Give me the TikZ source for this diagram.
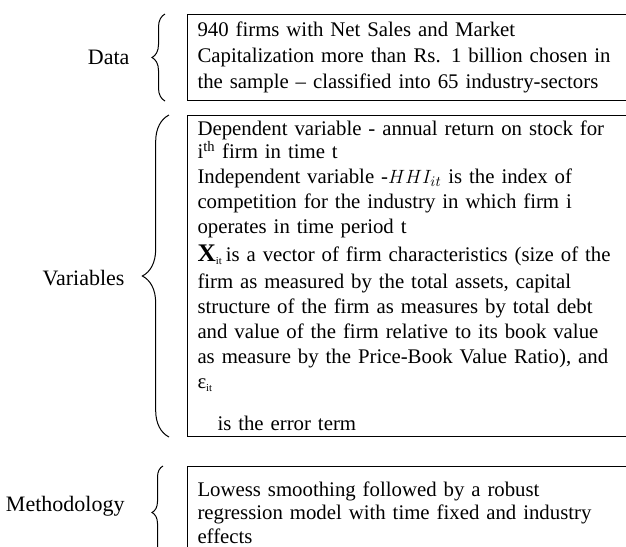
\documentclass[tikz,border=0pt]{standalone}
\usepackage{fontspec}
\setmainfont{Liberation Serif}
\usetikzlibrary{decorations.pathreplacing}

\tikzset{every picture/.style={line width=0.75pt}}
\tikzset{
  textbox/.style={draw, anchor=north west, align=left, inner xsep=7.5pt, text width=345pt, font=\fontsize{15.6}{18.75}\selectfont},
  lbl/.style={anchor=east, inner sep=0pt, font=\fontsize{16.5}{18.75}\selectfont},
  curly/.style={decorate, decoration={brace, amplitude=#1}},
  curly/.default=9pt
}

\begin{document}
\begin{tikzpicture}[x=0.75pt,y=0.75pt,yscale=-1,xscale=1]
\useasboundingbox (0,0) rectangle (626,547);
\clip (0,0) rectangle (626,547);

%Shape: Rectangle [Data]
\node[textbox, minimum height=64.5pt] (databox) at (187,14) {940 firms with Net Sales and Market\\[1pt] Capitalization more than Rs. 1 billion chosen in\\[1pt] the sample – classified into 65 industry-sectors};
%Shape: Rectangle [Variables]
\node[textbox, minimum height=240.75pt] (varbox) at (187,115) {Dependent variable - annual return on stock for\\[-1.5pt]
i\textsuperscript{th} firm in time t\\
Independent variable -$HHI_{it}$ is the index of\\
competition for the industry in which firm i\\
operates in time period t\\[2pt]
{\fontsize{19}{19}\selectfont\textbf{X}}\textsubscript{\fontsize{8}{8}\selectfont it}\,is a vector of firm characteristics (size of the\\[1.5pt]
firm as measured by the total assets, capital\\
structure of the firm as measures by total debt\\
and value of the firm relative to its book value\\
as measure by the Price-Book Value Ratio), and\\
ε\textsubscript{\fontsize{8}{8}\selectfont it}\\[13pt]
\hspace*{15pt}is the error term};
%Shape: Rectangle [Methodology]
\node[textbox, minimum height=69pt] (methbox) at (187,466) {Lowess smoothing followed by a robust\\[-1pt]
regression model with time fixed and industry\\[-1pt]
effects};

%Shape: Brace
\draw[curly=9.75pt] ([xshift=-16.5pt]databox.south west) -- ([xshift=-16.5pt]databox.north west);
\draw[curly=20pt] ([xshift=-13.5pt]varbox.south west) -- ([xshift=-13.5pt]varbox.north west);
\draw[curly=8.25pt] ([xshift=-18pt]methbox.south west) -- ([xshift=-18pt]methbox.north west);

% Text Node
\node[lbl] (datalbl) at (130,57) {Data};
\node[lbl] (varlbl) at (125,278) {Variables};
\node[lbl] (methlbl) at (125,506) {Methodology};
\end{tikzpicture}
\end{document}
